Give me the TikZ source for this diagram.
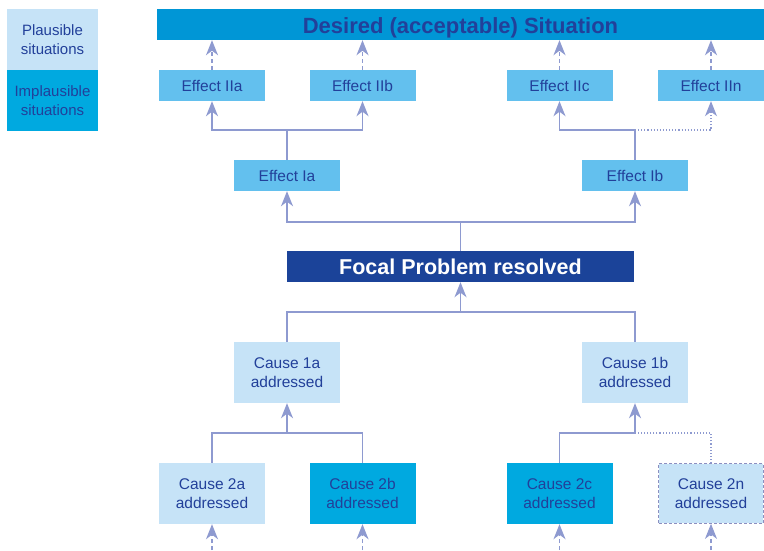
\documentclass[tikz,border=0pt]{standalone}
\usepackage{fontspec}
\setmainfont{Liberation Sans}
\usetikzlibrary{arrows.meta}
\definecolor{lightbox}{HTML}{C6E3F7}
\definecolor{effbox}{HTML}{63C0EE}
\definecolor{midbox}{HTML}{00A9E0}
\definecolor{barbox}{HTML}{0096D6}
\definecolor{focalbox}{HTML}{1B4399}
\definecolor{txt}{HTML}{22409A}
\definecolor{lnk}{HTML}{8E9AD0}
\definecolor{dashb}{HTML}{8C8FC0}
\tikzset{
  box/.style={rectangle, inner sep=0pt, align=center, text=txt, font=\fontsize{15.5}{19}\selectfont},
  effbx/.style={box, fill=effbox, minimum width=106pt, minimum height=31pt},
  causebx/.style={box, fill=lightbox, minimum width=106pt, minimum height=61pt},
  implbx/.style={box, fill=midbox, minimum width=106pt, minimum height=61pt},
  legbx/.style={box, minimum width=91pt, minimum height=61pt, font=\fontsize{15}{19}\selectfont},
  lnkline/.style={draw=lnk, line width=1.5pt},
  arr/.style={lnkline, -{Stealth[length=15pt, width=12pt, inset=4.5pt]}},
  darr/.style={arr, dash pattern=on 4pt off 3pt},
  dotl/.style={draw=lnk, line width=1.1pt, dotted},
  dotarr/.style={dotl, -{Stealth[length=15pt, width=12pt, inset=4.5pt]}}
}
\begin{document}
\begin{tikzpicture}[x=1pt, y=-1pt]
\useasboundingbox (0,0) rectangle (764,550);
% legend
\node[legbx, fill=lightbox] (lp) at (52.5,39.5) {Plausible\\situations};
\node[legbx, fill=midbox] (li) at (52.5,100.5) {Implausible\\situations};
% title
\node[box, fill=barbox, minimum width=607pt, minimum height=31pt, text height=19pt, text depth=2pt, font=\bfseries\fontsize{22}{26}\selectfont] (title) at (460.5,24.5) {Desired (acceptable) Situation};
% effect II
\node[effbx] (e2a) at (212,85.5) {Effect IIa};
\node[effbx] (e2b) at (362.5,85.5) {Effect IIb};
\node[effbx] (e2c) at (559.5,85.5) {Effect IIc};
\node[effbx] (e2n) at (711,85.5) {Effect IIn};
% effect I
\node[effbx] (e1a) at (287,175.5) {Effect Ia};
\node[effbx] (e1b) at (635,175.5) {Effect Ib};
% focal
\node[box, fill=focalbox, text=white, minimum width=347pt, minimum height=31pt, font=\bfseries\fontsize{21.5}{25}\selectfont] (focal) at (460.5,266.5) {Focal Problem resolved};
% cause 1
\node[causebx] (c1a) at (287,372.5) {Cause 1a\\addressed};
\node[causebx] (c1b) at (635,372.5) {Cause 1b\\addressed};
% cause 2
\node[causebx] (c2a) at (212,493.5) {Cause 2a\\addressed};
\node[implbx] (c2b) at (362.5,493.5) {Cause 2b\\addressed};
\node[implbx] (c2c) at (559.5,493.5) {Cause 2c\\addressed};
\node[causebx, draw=dashb, line width=1.2pt, dash pattern=on 3pt off 2pt, minimum width=104.5pt, minimum height=59.5pt] (c2n) at (711,493.5) {Cause 2n\\addressed};
% junctions
\coordinate (j1) at (287,130);
\coordinate (j2) at (635,130);
\coordinate (j3) at (460.5,222);
\coordinate (j4) at (460.5,312);
\coordinate (j5) at (287,433);
\coordinate (j6) at (635,433);
% bottom free ends
\coordinate (b1) at (212,550);
\coordinate (b2) at (362.5,550);
\coordinate (b3) at (559.5,550);
\coordinate (b4) at (711,550);
% effect II to title (dashed)
\foreach \n in {e2a,e2b,e2c,e2n}{
  \draw[darr] (\n.north) -- (\n.north |- title.south);
}
% effect I to effect II
\draw[lnkline] (e1a.north) -- (j1);
\draw[arr] (j1) -| (e2a.south);
\draw[arr] (j1) -| (e2b.south);
\draw[lnkline] (e1b.north) -- (j2);
\draw[arr] (j2) -| (e2c.south);
\draw[dotarr] (j2) -| (e2n.south);
% focal to effect I
\draw[lnkline] (focal.north) -- (j3);
\draw[arr] (j3) -| (e1a.south);
\draw[arr] (j3) -| (e1b.south);
% cause 1 to focal
\draw[lnkline] (c1a.north) |- (j4);
\draw[lnkline] (c1b.north) |- (j4);
\draw[arr] (j4) -- (focal.south);
% cause 2 to cause 1
\draw[lnkline] (c2a.north) |- (j5);
\draw[lnkline] (c2b.north) |- (j5);
\draw[arr] (j5) -- (c1a.south);
\draw[lnkline] (c2c.north) |- (j6);
\draw[dotl] (c2n.north) |- (j6);
\draw[arr] (j6) -- (c1b.south);
% bottom dashed arrows
\draw[darr] (b1) -- (c2a.south);
\draw[darr] (b2) -- (c2b.south);
\draw[darr] (b3) -- (c2c.south);
\draw[darr] (b4) -- (c2n.south);
\end{tikzpicture}
\end{document}
